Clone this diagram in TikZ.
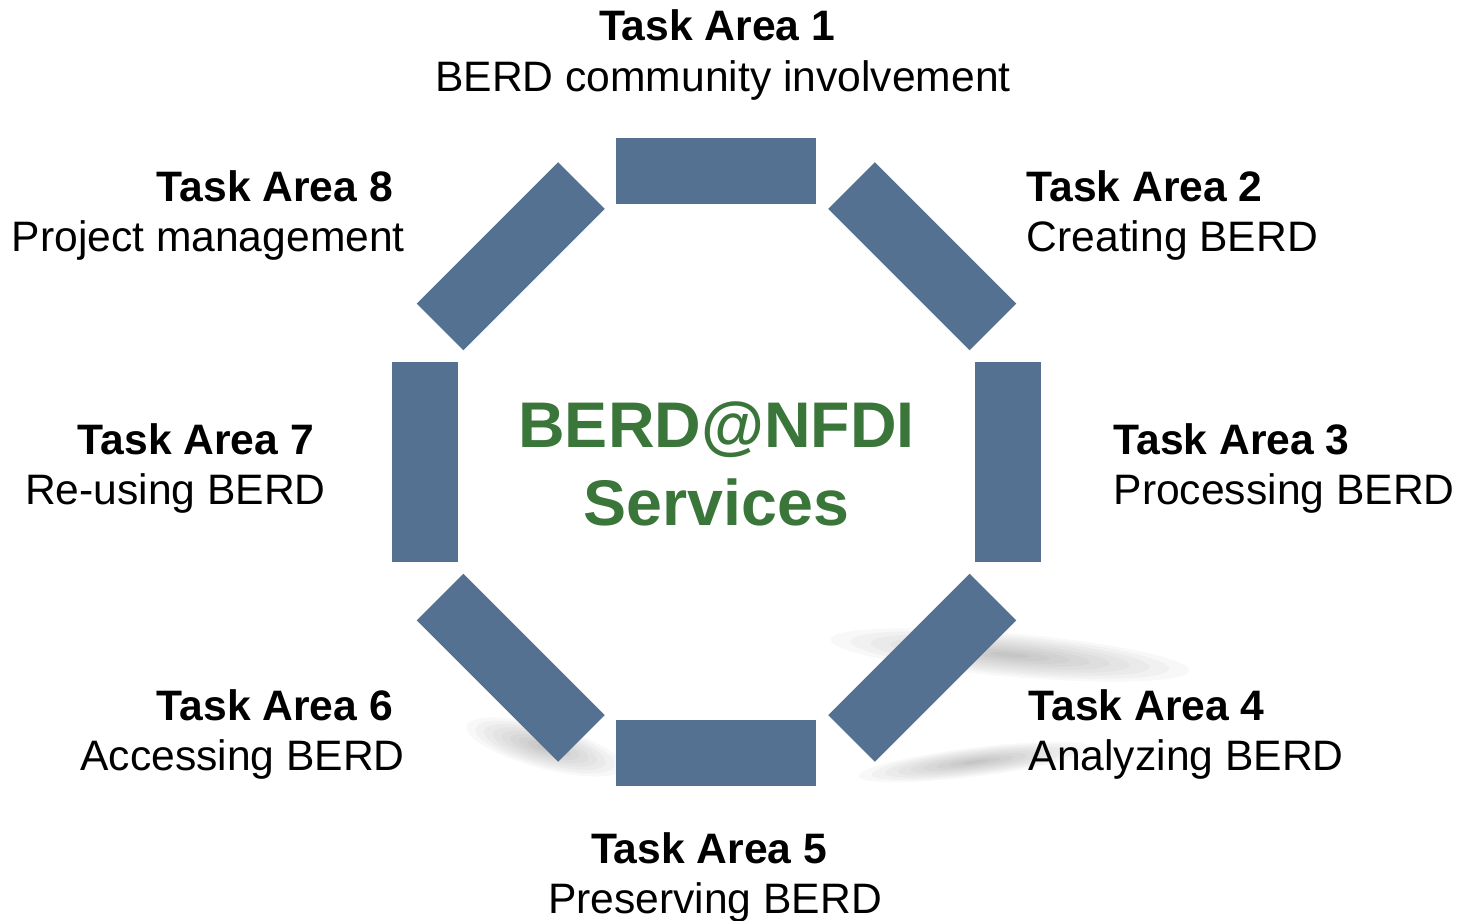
\documentclass[tikz,border=0pt]{standalone}
\usepackage{fontspec}
\setmainfont{Liberation Sans}
\definecolor{barblue}{RGB}{84,113,146}
\definecolor{berdgreen}{RGB}{58,117,57}

\begin{document}
\begin{tikzpicture}[x=1pt,y=1pt]

% Define bar, label and shadow styles
\tikzstyle{bar} =[rectangle, fill=barblue, inner sep=0pt,
                  minimum width=200pt, minimum height=66pt]
\tikzstyle{task}=[inner sep=0pt, font=\fontsize{42.6}{50.5}\selectfont]
\tikzstyle{haze}=[fill=black, opacity=0.028]

\useasboundingbox (-716.5,-459) rectangle (743.5,462);

% soft shadows under the lower bars
\foreach \k in {1,...,9}{
  \fill[haze, rotate around={-5:(293.5,-193)}] (293.5,-193) ellipse ({20pt*\k} and {2.4pt*\k});
  \fill[haze, rotate around={7:(258.5,-300)}] (258.5,-300) ellipse ({13pt*\k} and {1.6pt*\k});
  \fill[haze, rotate around={-15:(-171.5,-285)}] (-171.5,-285) ellipse ({9pt*\k} and {2.4pt*\k});
}

% the eight bars of the octagon
\foreach \a in {0,45,...,315}{
  \node[bar, rotate=\a-90] (bar\a) at (\a:291) {};
}

\node[text=berdgreen, font=\fontsize{64.5}{78}\selectfont\bfseries,
      align=center, inner sep=0pt, anchor=north] (hub) at (0,60)
      {BERD@NFDI\\Services};

% task areas
\node[task, align=center, anchor=north] (ta1) at (6.5,452.5)
      {\textbf{Task Area 1}\hspace*{0.28em}\\BERD community involvement};
\node[task, align=left, anchor=north west] (ta2) at (310,292)
      {\textbf{Task Area 2}\\Creating BERD};
\node[task, align=left, anchor=north west] (ta3) at (397,39)
      {\textbf{Task Area 3}\\Processing BERD};
\node[task, align=left, anchor=north west] (ta4) at (312,-227)
      {\textbf{Task Area 4}\\Analyzing BERD};
\node[task, align=center, anchor=north] (ta5) at (-1.5,-370)
      {\textbf{Task Area 5}\hspace*{0.28em}\\Preserving BERD};
\node[task, align=right, anchor=north east] (ta6) at (-311.5,-227)
      {\textbf{Task Area 6}\hspace*{0.28em}\\Accessing BERD};
\node[task, align=right, anchor=north east] (ta7) at (-390.5,39)
      {\textbf{Task Area 7}\hspace*{0.28em}\\Re-using BERD};
\node[task, align=right, anchor=north east] (ta8) at (-311.5,292)
      {\textbf{Task Area 8}\hspace*{0.28em}\\Project management};

\end{tikzpicture}
\end{document}
